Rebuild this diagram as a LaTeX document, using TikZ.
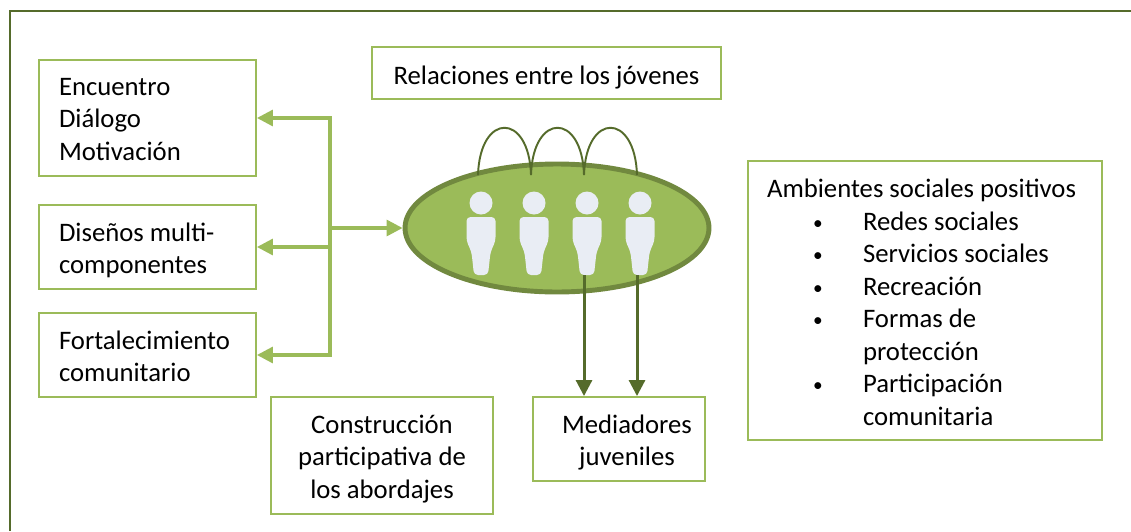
\documentclass[tikz,border=0pt]{standalone}
\usepackage{fontspec}
\setmainfont{Carlito}
\usetikzlibrary{arrows.meta,shapes.geometric}
\definecolor{verdeclaro}{HTML}{9BBB59}
\definecolor{verdemedio}{HTML}{71893F}
\definecolor{verdeoscuro}{HTML}{556B2B}
\definecolor{piel}{HTML}{E9EDF4}
\newcommand{\vineta}[1]{\hspace*{.92cm}\makebox[1cm][l]{\raisebox{.4pt}{\fontsize{11}{11}\selectfont\textbullet}}#1}
\tikzset{
  caja/.style={rectangle,draw=verdeclaro,line width=1.1pt,font={\fontsize{15.2}{18.5}\selectfont},inner sep=0pt},
  bajar/.style={execute at begin node={\rule{0pt}{#1}}},
  flechaclara/.style={-{Triangle[length=.32cm,width=.32cm]},draw=verdeclaro,line width=1.8pt},
  flechaoscura/.style={-{Triangle[length=.32cm,width=.32cm]},draw=verdeoscuro,line width=1.7pt},
  arco/.style={draw=verdeoscuro,line width=1.1pt},
  persona/.pic={
    \fill[piel] (0,0) circle (11.5);
    \fill[piel,rounded corners=.08cm] (-14.5,14) -- (14.5,14) -- (14.5,38) -- (9.5,49) -- (7,72) -- (-7,72) -- (-9.5,49) -- (-14.5,38) -- cycle;
    \coordinate (-base) at (-3,-28);
    \coordinate (-pies) at (-3,72);
  }
}
\begin{document}
\begin{tikzpicture}[x=.02cm,y=-.02cm]
    \useasboundingbox (0,0) rectangle (1131,531);
    \coordinate (marco_a) at (10,531);
    \coordinate (marco_b) at (10,11);
    \coordinate (marco_c) at (1131,11);
    \draw[verdeoscuro,line width=1.4pt] (marco_a) -- (marco_b) -- (marco_c);

    \node[caja,bajar=11.4pt,minimum width=4.34cm,minimum height=2.32cm,text width=3.54cm,align=flush left] (encuentro) at (147.5,118) {Encuentro\\Diálogo\\Motivación};
    \node[caja,bajar=14.6pt,minimum width=4.34cm,minimum height=1.68cm,text width=3.54cm,align=flush left] (disenos) at (147.5,247) {Diseños multi-\\componentes};
    \node[caja,bajar=12.2pt,minimum width=4.34cm,minimum height=1.68cm,text width=3.54cm,align=flush left] (fortalecimiento) at (147.5,355) {Fortalecimiento\\comunitario};
    \node[caja,bajar=15.4pt,minimum width=6.98cm,minimum height=1.04cm,align=center] (relaciones) at (546.5,73) {Relaciones entre los jóvenes};
    \node[caja,bajar=14.5pt,minimum width=4.44cm,minimum height=2.34cm,text width=4cm,align=flush center] (construccion) at (382,455.5) {Construcción\\participativa de\\los abordajes};
    \node[caja,bajar=14.5pt,minimum width=3.44cm,minimum height=1.68cm,text width=3cm,align=flush center] (mediadores) at (619,439) {\hspace*{.32cm}Mediadores\\\hspace*{.32cm}juveniles};
    \node[caja,bajar=12.4pt,minimum width=7.08cm,minimum height=5.58cm,text width=6.32cm,align=flush left] (ambientes) at (925,300.5) {Ambientes sociales positivos\\\vineta{Redes sociales}\\\vineta{Servicios sociales}\\\vineta{Recreación}\\\vineta{Formas de}\\\hspace*{1.92cm}protección\\\vineta{Participación}\\\hspace*{1.92cm}comunitaria};

    \node[ellipse,draw=verdemedio,fill=verdeclaro,line width=2.8pt,minimum width=6.08cm,minimum height=2.56cm,inner sep=0pt] (grupo) at (557,228) {};
    \pic (pa) at (481,203) {persona};
    \pic (pb) at (534,203) {persona};
    \pic (pc) at (587,203) {persona};
    \pic (pd) at (640,203) {persona};

    \draw[arco] (pa-base) .. controls (480,112) and (529,112) .. (pb-base);
    \draw[arco] (pb-base) .. controls (533,112) and (582,112) .. (pc-base);
    \draw[arco] (pc-base) .. controls (586,112) and (635,112) .. (pd-base);

    \coordinate (tronco) at (330,228);
    \draw[flechaclara] (tronco) |- (encuentro.east);
    \draw[flechaclara] (tronco) |- (disenos.east);
    \draw[flechaclara] (tronco) |- (fortalecimiento.east);
    \draw[flechaclara] (tronco) -- (grupo.west);
    \draw[flechaoscura] (pc-pies) -- (pc-pies |- mediadores.north);
    \draw[flechaoscura] (pd-pies) -- (pd-pies |- mediadores.north);
\end{tikzpicture}
\end{document}
